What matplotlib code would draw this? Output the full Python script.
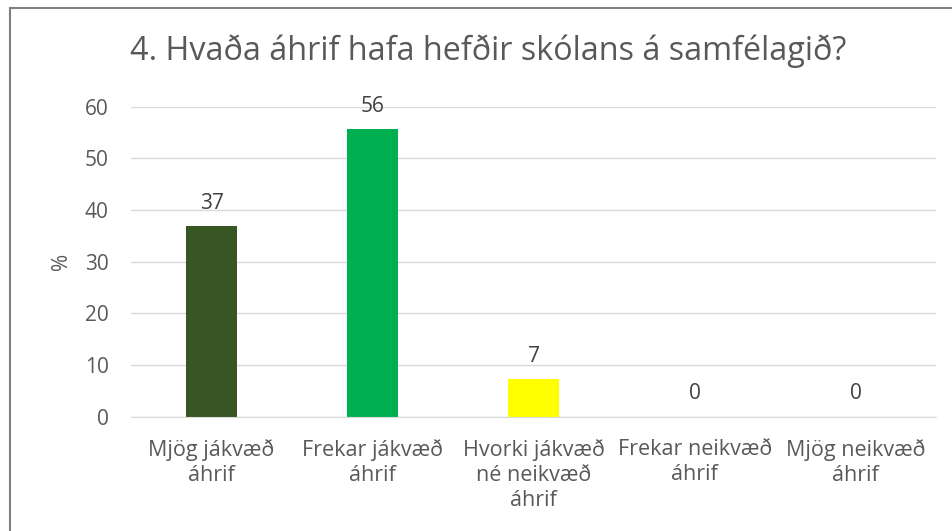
import matplotlib.pyplot as plt
from matplotlib.patches import Rectangle

plt.rcParams['font.family'] = ['Open Sans', 'DejaVu Sans']

categories = ['Mjög jákvæð\náhrif', 'Frekar jákvæð\náhrif', 'Hvorki jákvæð\nné neikvæð\náhrif',
              'Frekar neikvæð\náhrif', 'Mjög neikvæð\náhrif']
values = [36.9, 55.6, 7.3, 0, 0]
labels = ['37', '56', '7', '0', '0']
colors = ['#375623', '#00B050', '#FFFF00', '#A5A5A5', '#A5A5A5']
yticks = [0, 10, 20, 30, 40, 50, 60]

txt = '#595959'
fs = 15

fig = plt.figure(figsize=(9.53, 5.31), dpi=100)
ax = fig.add_axes([0.1375, 0.215, 0.845, 0.584])

x = range(len(categories))
ax.bar(x, values, width=0.317, color=colors, zorder=3)
for i, v in enumerate(values):
    ax.text(i, v + 2.4, labels[i], ha='center', va='bottom', fontsize=fs, color='#404040')

ax.set_xlim(-0.5, len(categories) - 0.5)
ax.set_ylim(0, 60)
ax.set_yticks(yticks)
ax.set_xticks(list(x))
ax.set_xticklabels(categories, fontsize=15.5, color=txt, linespacing=1.25)
ax.tick_params(axis='y', labelsize=fs, labelcolor=txt, length=0, pad=16)
ax.tick_params(axis='x', length=0, pad=16)
ax.grid(axis='y', color='#D9D9D9', linewidth=1, zorder=0)
for s in ['top', 'right', 'left']:
    ax.spines[s].set_visible(False)
ax.spines['bottom'].set_color('#D9D9D9')
ax.spines['bottom'].set_zorder(4)

ax.set_ylabel('%', fontsize=fs, color=txt, labelpad=9)

fig.text(0.5126, 1 - 60 / 531, '4. Hvaða áhrif hafa hefðir skólans á samfélagið?',
         ha='center', va='baseline', fontsize=23.3, color=txt)

# chart frame (right and bottom sides are cut off in the original)
fig.patches.append(Rectangle((10 / 953, -0.05), 1.2, 1 - 8 / 531 + 0.05,
                             transform=fig.transFigure, fill=False,
                             edgecolor='#808080', linewidth=1.5))

fig.savefig('out.png', dpi=100)
